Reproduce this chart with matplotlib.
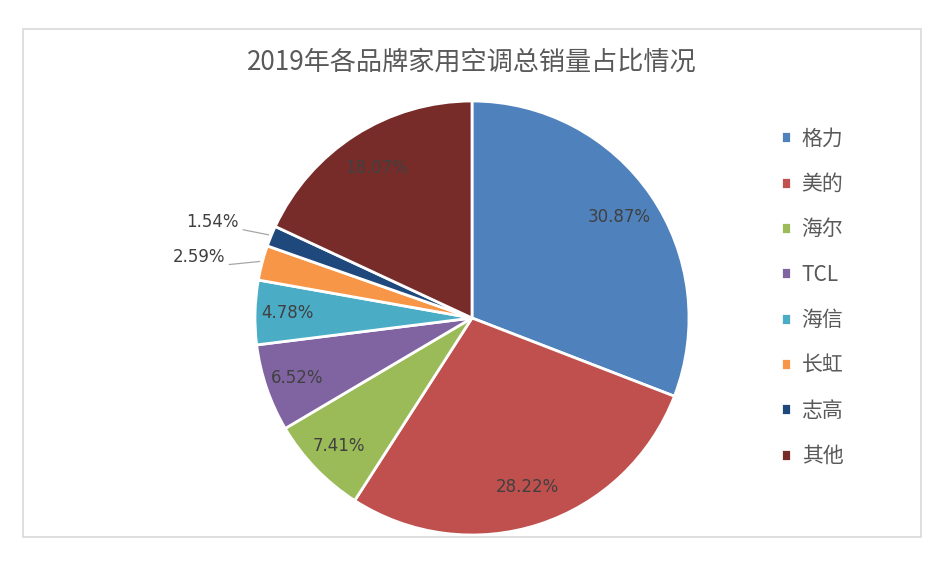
import numpy as np
import matplotlib
matplotlib.use('Agg')
import matplotlib.pyplot as plt
from matplotlib.patches import Rectangle

plt.rcParams['font.family'] = ['Noto Sans CJK SC', 'DejaVu Sans']

brands = ['格力', '美的', '海尔', 'TCL', '海信', '长虹', '志高', '其他']
shares = [30.87, 28.22, 7.41, 6.52, 4.78, 2.59, 1.54, 18.07]
colors = ['#4F81BD', '#C0504D', '#9BBB59', '#8064A2',
          '#4BACC6', '#F79646', '#1F497D', '#772C2A']
title = '2019年各品牌家用空调总销量占比情况'

W, H = 944, 565
cx, cy, R = 472, 318, 217

fig = plt.figure(figsize=(W / 100, H / 100), dpi=100)
fig.patches.append(Rectangle((23 / W, 1 - 537 / H), 898 / W, 508 / H,
                             transform=fig.transFigure, fill=False,
                             edgecolor='#D9D9D9', linewidth=1.2))

ax = fig.add_axes([(cx - R) / W, (H - cy - R) / H, 2 * R / W, 2 * R / H])
wedges, _ = ax.pie(shares, colors=colors, startangle=90, counterclock=False,
                   wedgeprops=dict(edgecolor='white', linewidth=2))
ax.set_xlim(-1, 1)
ax.set_ylim(-1, 1)
ax.set_aspect('equal')

# offsets (from the rim midpoint) for labels of the tiny slices
outside = {2.59: (-0.171, 0.027), 1.54: (-0.148, 0.064)}

cum = np.cumsum([0] + shares[:-1])
lab_font = dict(family=['DejaVu Sans'], fontsize=12, color='#404040')
for s, c0 in zip(shares, cum):
    ang = np.deg2rad(90 - 3.6 * (c0 + s / 2))
    ex, ey = np.cos(ang), np.sin(ang)
    txt = f'{s:.2f}%'
    if s in outside:
        dx, dy = outside[s]
        tx, ty = ex + dx, ey + dy
        ax.plot([tx + 0.02, ex - 0.012], [ty - 0.035, ey + 0.006],
                color='#A6A6A6', linewidth=0.9, clip_on=False)
        ax.text(tx, ty, txt, ha='right', va='center', **lab_font)
    else:
        r = 0.82 if s > 10 else 0.85
        ax.text(r * ex, r * ey, txt, ha='center', va='center', **lab_font)

fig.text(472 / W, 1 - 62 / H, title, ha='center', va='center',
         fontsize=18.8, color='#595959')

fig.legend(wedges, brands, loc='upper left',
           bbox_to_anchor=(762 / W, 1 - 109 / H), frameon=False,
           handlelength=0.5, handleheight=0.5, handletextpad=0.5,
           labelspacing=1.12, fontsize=15, labelcolor='#595959')

fig.savefig('out.png', dpi=100)
